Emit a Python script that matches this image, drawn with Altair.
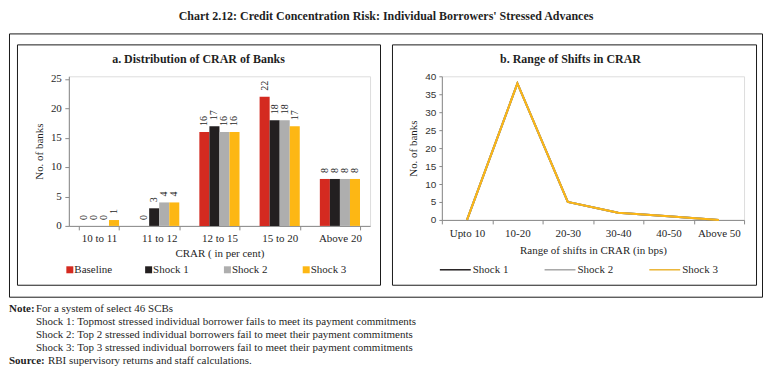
import altair as alt
import pandas as pd

# ---------------- data ----------------
crar_bins = ["10 to 11", "11 to 12", "12 to 15", "15 to 20", "Above 20"]
series_a = ["Baseline", "Shock 1", "Shock 2", "Shock 3"]
baseline_a = [0, 0, 16, 22, 8]
shock1_a = [0, 3, 17, 18, 8]
shock2_a = [0, 4, 16, 18, 8]
shock3_a = [1, 4, 16, 17, 8]

shift_bins = ["Upto 10", "10-20", "20-30", "30-40", "40-50", "Above 50"]
series_b = ["Shock 1", "Shock 2", "Shock 3"]
shock1_b = [0, 38, 5, 2, 1, 0]
shock2_b = [0, 38, 5, 2, 1, 0]
shock3_b = [0, 38, 5, 2, 1, 0]

y_ticks_a = [0, 5, 10, 15, 20, 25]
y_ticks_b = [0, 5, 10, 15, 20, 25, 30, 35, 40]

chart_title = "Chart 2.12: Credit Concentration Risk: Individual Borrowers' Stressed Advances"
title_a = "a. Distribution of CRAR of Banks"
title_b = "b. Range of Shifts in CRAR"
xtitle_a = "CRAR ( in per cent)"
xtitle_b = "Range of shifts in CRAR (in bps)"
ytitle = "No. of banks"
note_label = "Note:"
note_lines = [
    "For a system of select 46 SCBs",
    "Shock 1: Topmost stressed individual borrower fails to meet its payment commitments",
    "Shock 2: Top 2 stressed individual borrowers fail to meet their payment commitments",
    "Shock 3: Top 3 stressed individual borrowers fail to meet their payment commitments",
]
source_label = "Source:"
source_text = "RBI supervisory returns and staff calculations."

colors_a = ["#D42A20", "#231F20", "#AEAEAE", "#FDB714"]
colors_b = ["#231F20", "#A6A6A6", "#EBB535"]

# ---------------- style ----------------
SERIF = "Liberation Serif"
SANS = "Liberation Sans"
TXT = "#1f1f1f"
AXC = "#8a8a8a"

rows = []
for s, vals in zip(series_a, [baseline_a, shock1_a, shock2_a, shock3_a]):
    for b, v in zip(crar_bins, vals):
        rows.append({"bin": b, "series": s, "value": v})
df_a = pd.DataFrame(rows)
df_ticks_a = pd.DataFrame({"value": y_ticks_a})

rows = []
for s, vals in zip(series_b, [shock1_b, shock2_b, shock3_b]):
    for b, v in zip(shift_bins, vals):
        rows.append({"bin": b, "series": s, "value": v})
df_b = pd.DataFrame(rows)

one = pd.DataFrame({"k": [0]})

# plot-area origins (page pixels)
OXA, OYA, WA, HA = 68, 75, 302, 150
OXB, OYB, WB, HB = 442, 75, 303, 144


def txt(text, x, y, ox, oy, size=11, weight="normal", align="left", font=SERIF, angle=0):
    kw = dict(font=font, fontSize=size, fontWeight=weight, align=align,
              baseline="middle", color=TXT)
    if angle:
        kw["angle"] = angle
    return alt.Chart(one).mark_text(**kw).encode(
        x=alt.value(x - ox), y=alt.value(y - oy), text=alt.value(text))


def box(x0, x1, y0, y1, ox, oy):
    return alt.Chart(one).mark_rect(fill="transparent", stroke="#1a1a1a", strokeWidth=1).encode(
        x=alt.value(x0 - ox), x2=alt.value(x1 - ox), y=alt.value(y0 - oy), y2=alt.value(y1 - oy))


# ---------------- panel a ----------------
x_a = alt.X("bin:N", sort=crar_bins,
            scale=alt.Scale(paddingInner=1 / 3, paddingOuter=1 / 6),
            axis=alt.Axis(title=xtitle_a, labelAngle=0, tickBand="extent", tickSize=4,
                          labelPadding=3, labelFont=SERIF, labelFontSize=11, labelColor=TXT,
                          titleFont=SERIF, titleFontSize=11, titleFontWeight="normal",
                          titleColor=TXT, titlePadding=4, domainColor=AXC, tickColor=AXC,
                          labelOverlap=False))
xo_a = alt.XOffset("series:N", sort=series_a, scale=alt.Scale(paddingInner=0, paddingOuter=0))
y_axis_a = alt.Axis(values=y_ticks_a, title=ytitle, grid=False, tickSize=4, labels=False,
                    titleFont=SERIF, titleFontSize=11, titleFontWeight="normal",
                    titleColor=TXT, titlePadding=20, tickColor=AXC, domainColor=AXC)
y_scale_a = alt.Scale(domain=[0, 25.5], nice=False)
y_a = alt.Y("value:Q", scale=y_scale_a, axis=y_axis_a)
col_a = alt.Color("series:N", scale=alt.Scale(domain=series_a, range=colors_a), legend=None)

# invisible frame fixing the top-left corner of the whole picture
frame = alt.Chart(one).mark_rect(fill="transparent", strokeWidth=0).encode(
    x=alt.value(8 - OXA), x2=alt.value(764 - OXA), y=alt.value(8 - OYA), y2=alt.value(366 - OYA))

bars = alt.Chart(df_a).mark_bar().encode(x=x_a, xOffset=xo_a, y=y_a, color=col_a)
labels = alt.Chart(df_a).mark_text(angle=270, align="left", baseline="middle", dx=6,
                                   font=SERIF, fontSize=10, color=TXT).encode(
    x=x_a, xOffset=xo_a, y=y_a, text="value:Q")
# y tick labels of panel a, placed through the y scale
tick_labels_a = alt.Chart(df_ticks_a).mark_text(align="right", baseline="middle",
                                                font=SERIF, fontSize=11, color=TXT).encode(
    x=alt.value(-7), y=y_a, text="value:Q")

layers_a = [frame,
            box(8.5, 763.5, 32.5, 296.5, OXA, OYA),
            box(16.5, 380.5, 43.5, 284.5, OXA, OYA),
            txt(chart_title, 386, 15, OXA, OYA, size=12, weight="bold", align="center"),
            txt(title_a, 198, 58, OXA, OYA, size=12, weight="bold", align="center"),
            bars, labels, tick_labels_a]

for i, s in enumerate(series_a):
    cx = 69 + 79 * i
    layers_a.append(alt.Chart(one).mark_square(size=49, opacity=1, color=colors_a[i]).encode(
        x=alt.value(cx - OXA), y=alt.value(269 - OYA)))
    layers_a.append(txt(s, cx + 4.5, 269, OXA, OYA, size=11))

# notes
layers_a.append(txt(note_label, 8, 308, OXA, OYA, size=11, weight="bold"))
for i, line in enumerate(note_lines):
    layers_a.append(txt(line, 35, 308 + 13 * i, OXA, OYA, size=11))
layers_a.append(txt(source_label, 8, 360, OXA, OYA, size=11, weight="bold"))
layers_a.append(txt(source_text, 47, 360, OXA, OYA, size=11))

panel_a = alt.layer(*layers_a).properties(width=WA, height=HA)

# ---------------- panel b ----------------
x_b = alt.X("bin:N", sort=shift_bins,
            scale=alt.Scale(type="band", paddingInner=0, paddingOuter=0),
            axis=alt.Axis(title=xtitle_b, labelAngle=0, tickBand="extent", tickSize=4,
                          labelPadding=4, labelFont=SERIF, labelFontSize=11, labelColor=TXT,
                          titleFont=SERIF, titleFontSize=11, titleFontWeight="normal",
                          titleColor=TXT, titlePadding=6, domainColor=AXC, tickColor=AXC,
                          labelOverlap=False))
y_b = alt.Y("value:Q", scale=alt.Scale(domain=[0, 40], nice=False),
            axis=alt.Axis(values=y_ticks_b, title=ytitle, grid=False, tickSize=3,
                          labelPadding=3, labelFont=SANS, labelFontSize=10, labelColor="#333",
                          titleFont=SERIF, titleFontSize=11, titleFontWeight="normal",
                          titleColor=TXT, titlePadding=6, domainColor=AXC, tickColor=AXC,
                          labelOverlap=False, labelFlush=False))
col_b = alt.Color("series:N", scale=alt.Scale(domain=series_b, range=colors_b), legend=None)

lines = alt.Chart(df_b).mark_line(strokeWidth=2).encode(x=x_b, y=y_b, color=col_b)

layers_b = [box(392.5, 757.5, 43.5, 284.5, OXB, OYB),
            txt(title_b, 571, 58, OXB, OYB, size=12, weight="bold", align="center"),
            lines]
for i, s in enumerate(series_b):
    x0 = 440 + 105 * i
    layers_b.append(alt.Chart(one).mark_rule(color=colors_b[i], strokeWidth=1.5).encode(
        x=alt.value(x0 - OXB), x2=alt.value(x0 + 31 - OXB), y=alt.value(269 - OYB)))
    layers_b.append(txt(s, x0 + 33, 269, OXB, OYB, size=11))

panel_b = alt.layer(*layers_b).properties(width=WB, height=HB)

chart = alt.hconcat(panel_a, panel_b, spacing=OXB - (OXA + WA), bounds="flush").properties(
    padding=0
).configure_view(stroke=None).configure(background="white")

chart.save("out.html", embed_options={"renderer": "svg", "actions": False})
